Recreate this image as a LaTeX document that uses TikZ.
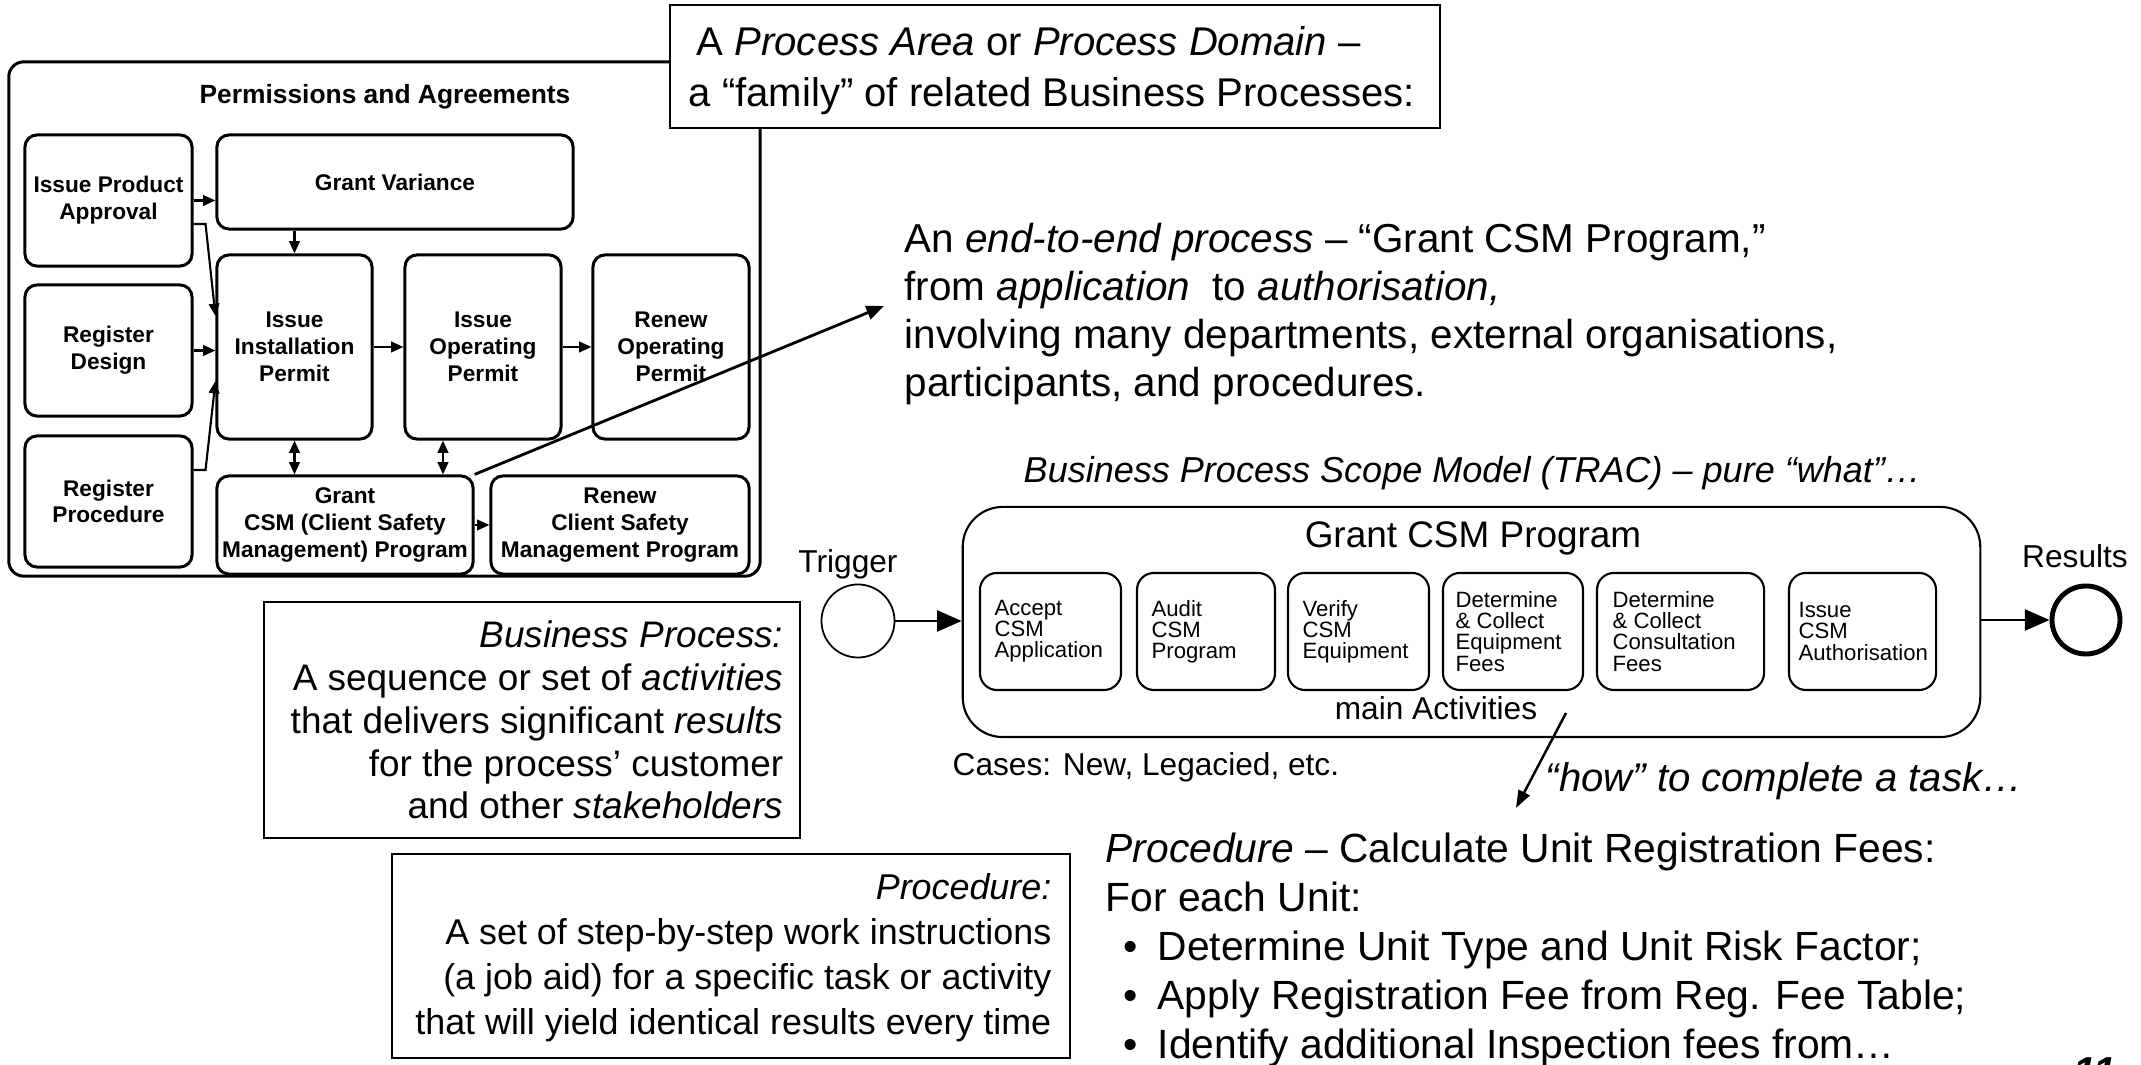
\documentclass[tikz,border=0pt]{standalone}
\usepackage{fontspec}
\setmainfont{Liberation Sans}
\usetikzlibrary{arrows.meta}
\newcommand{\myfs}[2]{\fontsize{#1}{#2}\selectfont}
\begin{document}
\begin{tikzpicture}[x=0.01cm,y=-0.01cm,
  pbox/.style={draw, line width=0.85pt, rounded corners=0.12cm, align=center, inner sep=0pt, font=\bfseries\myfs{6.45pt}{7.6pt}},
  abox/.style={draw, line width=0.6pt, rounded corners=0.17cm, inner sep=0pt, minimum height=1.17cm},
  atext/.style={align=left, inner sep=0pt, font=\myfs{6.3pt}{6pt}, anchor=west},
  sarr/.style={line width=0.6pt, -{Triangle[length=3.5pt,width=3pt]}},
  darr/.style={line width=0.6pt, {Triangle[length=3.5pt,width=3pt]}-{Triangle[length=3.5pt,width=3pt]}},
  barr/.style={line width=0.6pt, -{Triangle[length=7pt,width=6pt]}},
  lbl/.style={inner sep=0pt},
  small/.style={font=\myfs{9pt}{11pt}},
  defbox/.style={draw, line width=0.5pt, inner sep=0pt}
]
\useasboundingbox (0,0) rectangle (2141,1065);

% ---------- left panel ----------
\node[draw, line width=0.85pt, rounded corners=0.15cm, minimum width=7.51cm, minimum height=5.14cm, inner sep=0] (pa) at (384.5,319) {};
\node[lbl, anchor=base, font=\bfseries\myfs{7.5pt}{9pt}] (pat) at (385,104) {Permissions and Agreements};

\node[pbox, minimum width=1.67cm, minimum height=1.31cm] (ipa) at (108.5,200.5) {Issue Product\\Approval};
\node[pbox, minimum width=1.67cm, minimum height=1.31cm] (rd) at (108.5,350.5) {Register\\Design};
\node[pbox, minimum width=1.67cm, minimum height=1.31cm] (rp) at (108.5,501.5) {Register\\Procedure};
\node[pbox, minimum width=3.56cm, minimum height=0.94cm] (gv) at (395,182) {Grant Variance};
\node[pbox, minimum width=1.55cm, minimum height=1.84cm] (iip) at (294.5,347) {Issue\\Installation\\Permit};
\node[pbox, minimum width=1.56cm, minimum height=1.84cm] (iop) at (483,347) {Issue\\Operating\\Permit};
\node[pbox, minimum width=1.56cm, minimum height=1.84cm] (rop) at (671,347) {Renew\\Operating\\Permit};
\node[pbox, minimum width=2.56cm, minimum height=0.98cm] (gcsm) at (345,525) {Grant\\CSM (Client Safety\\Management) Program};
\node[pbox, minimum width=2.58cm, minimum height=0.98cm] (rcsm) at (620,525) {Renew\\Client Safety\\Management Program};

\draw[sarr] (ipa.east) -- (ipa.east -| gv.west);
\draw[sarr] ([yshift=-0.235cm]ipa.east) -- ++(12,0) -- ([yshift=0.31cm]iip.west);
\draw[sarr] (rd.east) -- (rd.east -| iip.west);
\draw[sarr] ([yshift=0.315cm]rp.east) -- ++(12,0) -- ([yshift=-0.34cm]iip.west);
\draw[sarr] (gv.south -| iip.north) -- (iip.north);
\draw[sarr] (iip.east) -- (iop.west);
\draw[sarr] (iop.east) -- (rop.west);
\draw[darr] (iip.south) -- (iip.south |- gcsm.north);
\draw[darr] ([xshift=-0.4cm]iop.south) -- ([xshift=-0.4cm]iop.south |- gcsm.north);
\draw[sarr] (gcsm.east) -- (rcsm.west);

% ---------- callout ----------
\node[draw, fill=white, line width=0.6pt, minimum width=7.7cm, minimum height=1.23cm, inner sep=0] (pad) at (1055,66.5) {};
\node[lbl, anchor=base west, align=left, font=\myfs{11.4pt}{14.5pt}] (padt) at (688,107) {\hspace*{0.08cm}A \textit{Process Area} or \textit{Process Domain} –\\a “family” of related Business Processes:};

% ---------- end-to-end paragraph ----------
\node[lbl, anchor=base west, align=left, font=\myfs{11.5pt}{13.7pt}] (e2e) at (904,397) {An \textit{end-to-end process} – “Grant CSM Program,”\\from \textit{application}\ \ to \textit{authorisation,}\\involving many departments, external organisations,\\participants, and procedures.};
\coordinate (e2etip) at (884,306);
\draw[line width=0.8pt, -{Triangle[length=5pt,width=4pt]}] (gcsm.north east) -- (e2etip);

% ---------- scope model ----------
\node[lbl, anchor=base west, font=\itshape\myfs{10.25pt}{12pt}] (trac) at (1023,483) {Business Process Scope Model (TRAC) – pure “what”…};
\node[draw, line width=0.6pt, rounded corners=0.4cm, minimum width=10.17cm, minimum height=2.30cm, inner sep=0] (gcp) at (1471.5,622) {};
\node[lbl, anchor=base, font=\myfs{10.5pt}{12pt}] (gcpt) at (1473,548) {Grant CSM Program};

\node[abox, minimum width=1.41cm] (a1) at (1050.5,631.5) {};
\node[abox, minimum width=1.38cm] (a2) at (1206,631.5) {};
\node[abox, minimum width=1.41cm] (a3) at (1358.5,631.5) {};
\node[abox, minimum width=1.40cm] (a4) at (1513,631.5) {};
\node[abox, minimum width=1.67cm] (a5) at (1680.5,631.5) {};
\node[abox, minimum width=1.47cm] (a6) at (1862.5,631.5) {};
\node[atext] (t1) at ([xshift=0.15cm]a1.west) {Accept\\CSM\\Application};
\node[atext] (t2) at ([xshift=0.15cm]a2.west) {Audit\\CSM\\Program};
\node[atext] (t3) at ([xshift=0.15cm]a3.west) {Verify\\CSM\\Equipment};
\node[atext] (t4) at ([xshift=0.13cm]a4.west) {Determine\\\& Collect\\Equipment\\Fees};
\node[atext] (t5) at ([xshift=0.16cm]a5.west) {Determine\\\& Collect\\Consultation\\Fees};
\node[atext] (t6) at ([xshift=0.10cm]a6.west) {Issue\\CSM\\Authorisation};
\node[lbl, anchor=base, small] (mact) at (1436,720) {main Activities};

\node[draw, circle, minimum size=0.73cm, inner sep=0, line width=0.5pt] (trig) at (858,621) {};
\node[lbl, anchor=base, small] (trigl) at (848,573) {Trigger};
\node[draw, circle, minimum size=0.68cm, inner sep=0, line width=1.4pt] (res) at (2086,620) {};
\node[lbl, anchor=base, small] (resl) at (2075,568) {Results};
\draw[barr] (trig.east) -- (trig.east -| gcp.west);
\draw[barr] (gcp.east |- res.west) -- (res.west);

\node[lbl, anchor=base west, small] (cases) at (952,776) {Cases: New, Legacied, etc.};

% ---------- how ----------
\coordinate (hs) at (1566,713);
\coordinate (he) at (1516,808);
\draw[line width=0.7pt, -{Triangle[length=5pt,width=3.5pt]}] (hs) -- (he);
\node[lbl, anchor=base west, font=\itshape\myfs{11.4pt}{13pt}] (how) at (1545,792) {“how” to complete a task…};

\node[lbl, anchor=base west, align=left, font=\myfs{11.6pt}{14pt}] (proc) at (1105,1059) {\textit{Procedure} – Calculate Unit Registration Fees:\\For each Unit:\\\hspace*{0.18cm}\makebox[0.34cm][l]{•}Determine Unit Type and Unit Risk Factor;\\\hspace*{0.18cm}\makebox[0.34cm][l]{•}Apply Registration Fee from Reg. Fee Table;\\\hspace*{0.18cm}\makebox[0.34cm][l]{•}Identify additional Inspection fees from…};

% ---------- definition boxes ----------
\node[defbox, minimum width=5.36cm, minimum height=2.36cm] (bpdef) at (532,720) {};
\node[lbl, anchor=east, align=right, font=\myfs{10.5pt}{12.2pt}] (bpdeft) at (784,720) {\textit{Business Process:}\\A sequence or set of \textit{activities}\\that delivers significant \textit{results}\\for the process’ customer\\and other \textit{stakeholders}};
\node[defbox, minimum width=6.78cm, minimum height=2.04cm] (prdef) at (731,956) {};
\node[lbl, anchor=east, align=right, font=\myfs{10.2pt}{12.8pt}] (prdeft) at (1052,958) {\textit{Procedure:}\\A set of step-by-step work instructions\\(a job aid) for a specific task or activity\\that will yield identical results every time};

\node[lbl, anchor=north west, font=\bfseries\itshape\myfs{11.5pt}{12pt}] (pg) at (2073,1057) {11};
\end{tikzpicture}
\end{document}
